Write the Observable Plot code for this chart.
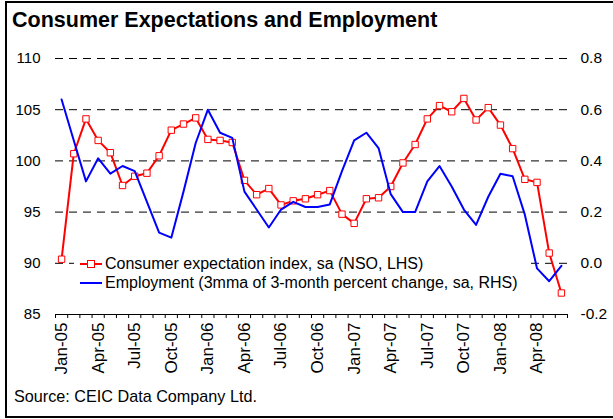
<!DOCTYPE html>
<html>
<head>
<meta charset="utf-8">
<script src="https://cdn.jsdelivr.net/npm/d3@7"></script>
<script src="https://cdn.jsdelivr.net/npm/@observablehq/plot@0.6"></script>
<style>
  body { margin: 0; background: #fff; font-family: "Liberation Sans", Arial, sans-serif; }
  #wrap { position: relative; width: 613px; height: 419px; overflow: hidden; background: #fff; }
  #frame { position: absolute; left: 5px; top: 1px; width: 700px; height: 413px; border: 2px solid #000; }
  #chart { position: absolute; left: 0; top: 0; }
  #title { position: absolute; left: 12px; top: 10px; font-size: 21.5px; line-height: 21px; font-weight: bold; color: #000; white-space: nowrap; }
  #source { position: absolute; left: 14px; top: 388px; font-size: 16.2px; line-height: 16px; color: #000; white-space: nowrap; }
  #legend { position: absolute; left: 74px; top: 253px; width: 455px; height: 41px; background: #fff; }
  .lrow { position: absolute; left: 0; height: 16px; font-size: 16px; line-height: 16px; color: #000; white-space: nowrap; }
  .lrow svg { position: absolute; left: 4px; top: 0; }
  .lrow span { position: absolute; left: 31px; top: 0; }
</style>
</head>
<body>
<div id="wrap">
  <div id="frame"></div>
  <div id="chart"></div>
  <div id="title">Consumer Expectations and Employment</div>
  <div id="legend"></div>
  <div id="source">Source: CEIC Data Company Ltd.</div>
</div>
<script>
const months = [
  "Jan-05","Feb-05","Mar-05","Apr-05","May-05","Jun-05","Jul-05","Aug-05","Sep-05","Oct-05","Nov-05","Dec-05",
  "Jan-06","Feb-06","Mar-06","Apr-06","May-06","Jun-06","Jul-06","Aug-06","Sep-06","Oct-06","Nov-06","Dec-06",
  "Jan-07","Feb-07","Mar-07","Apr-07","May-07","Jun-07","Jul-07","Aug-07","Sep-07","Oct-07","Nov-07","Dec-07",
  "Jan-08","Feb-08","Mar-08","Apr-08","May-08","Jun-08"
];
const consumerIndex = [
  90.4, 100.7, 104.1, 102.0, 100.8, 97.6, 98.5, 98.8, 100.5, 103.0, 103.6, 104.2,
  102.1, 102.0, 101.8, 98.1, 96.7, 97.3, 95.7, 96.1, 96.3, 96.7, 97.1, 94.8,
  93.9, 96.3, 96.4, 97.5, 99.8, 101.6, 104.1, 105.4, 104.8, 106.1, 104.0, 105.2,
  103.5, 101.2, 98.2, 97.9, 91.0, 87.1
];
const employment = [
  0.64, 0.48, 0.32, 0.41, 0.35, 0.38, 0.36, 0.24, 0.12, 0.10, 0.28, 0.47,
  0.60, 0.51, 0.49, 0.28, 0.21, 0.14, 0.21, 0.24, 0.22, 0.22, 0.23, 0.36,
  0.48, 0.51, 0.45, 0.27, 0.20, 0.20, 0.32, 0.38, 0.30, 0.21, 0.15, 0.26,
  0.35, 0.34, 0.19, -0.02, -0.07, -0.01
];
const leftTicks = [85, 90, 95, 100, 105, 110];
const rightTicks = [-0.2, 0.0, 0.2, 0.4, 0.6, 0.8];
const seriesNames = [
  "Consumer expectation index, sa (NSO, LHS)",
  "Employment (3mma of 3-month percent change, sa, RHS)"
];
const RED = "#ff0000", BLUE = "#0000ff";

// map the right-hand scale onto the left-hand one
const lMin = leftTicks[0], lMax = leftTicks[leftTicks.length - 1];
const rMin = rightTicks[0], rMax = rightTicks[rightTicks.length - 1];
const toLeft = v => lMin + (v - rMin) / (rMax - rMin) * (lMax - lMin);

const rows = months.map((m, i) => ({ i, m, c: consumerIndex[i], e: toLeft(employment[i]) }));
const boundaries = d3.range(months.length + 1).map(k => k - 0.5);
const labelIdx = months.map((m, i) => i).filter(i => i % 3 === 0);

const chart = Plot.plot({
  width: 613,
  height: 419,
  marginLeft: 55,
  marginRight: 46,
  marginTop: 58,
  marginBottom: 105,
  style: { fontFamily: "Liberation Sans, Arial, sans-serif", fontSize: "15px", color: "#000", background: "transparent" },
  x: { domain: [-0.5, months.length - 0.5] },
  y: { domain: [lMin, lMax] },
  marks: [
    Plot.ruleY(leftTicks.slice(1), { stroke: "#000", strokeWidth: 1, strokeDasharray: "8,6" }),
    Plot.ruleY([lMin], { stroke: "#000", strokeWidth: 1 }),
    Plot.axisX({ ticks: boundaries, tickSize: 4, tickFormat: () => "", label: null, stroke: "#000" }),
    Plot.axisX({ ticks: labelIdx, tickSize: 0, tickPadding: 8, tickRotate: -90, tickFormat: i => months[i], label: null, fill: "#000", fontSize: 17 }),
    Plot.axisY({ ticks: leftTicks, anchor: "left", tickSize: 0, tickPadding: 15, label: null, fill: "#000", fontSize: 15 }),
    Plot.axisY({ ticks: leftTicks, anchor: "right", tickSize: 0, tickPadding: 13, label: null, fill: "#000", fontSize: 15.5,
      tickFormat: t => rightTicks[leftTicks.indexOf(t)].toFixed(1) }),
    Plot.line(rows, { x: "i", y: "c", stroke: RED, strokeWidth: 2 }),
    Plot.dot(rows, { x: "i", y: "c", symbol: "square", r: 3.6, fill: "#fff", stroke: RED, strokeWidth: 1 }),
    Plot.line(rows, { x: "i", y: "e", stroke: BLUE, strokeWidth: 2 })
  ]
});
document.getElementById("chart").appendChild(chart);

// legend (inside the plot area, white box)
const legend = document.getElementById("legend");
const keys = [
  `<svg width="26" height="16"><line x1="2" y1="8" x2="24" y2="8" stroke="${RED}" stroke-width="2"/><rect x="9.5" y="4.5" width="7" height="7" fill="#fff" stroke="${RED}" stroke-width="1"/></svg>`,
  `<svg width="26" height="16"><line x1="2" y1="8" x2="24" y2="8" stroke="${BLUE}" stroke-width="2"/></svg>`
];
seriesNames.forEach((name, k) => {
  const row = document.createElement("div");
  row.className = "lrow";
  row.style.top = (3 + k * 19) + "px";
  row.innerHTML = keys[k] + `<span>${name}</span>`;
  legend.appendChild(row);
});
</script>
</body>
</html>
